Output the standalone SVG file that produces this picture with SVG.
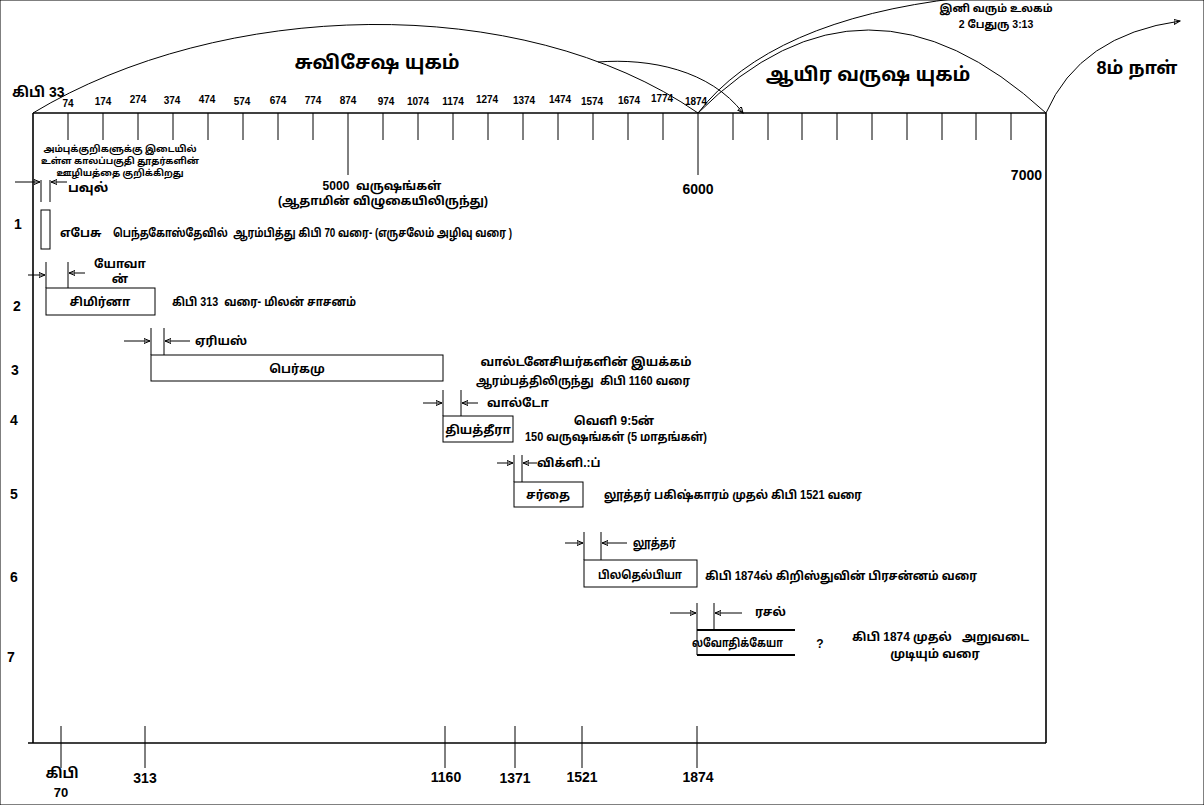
<svg xmlns="http://www.w3.org/2000/svg" width="1204" height="805" viewBox="0 0 1204 805">
<style>
text{font-family:'Liberation Sans','Noto Sans Tamil','Noto Sans',sans-serif;font-weight:bold;fill:#000}
.t{font-size:10px;text-anchor:middle}
.m{font-size:12px}
.c{text-anchor:middle}
.n{font-size:14px}
.big{font-size:19px;text-anchor:middle}
line,path,rect{stroke:#000;fill:none}
.f{stroke-width:1.6}
.a{stroke-width:1;marker-end:url(#ah)}
.b{stroke-width:1}
.k{stroke-width:2}
</style>
<defs>
<marker id="ah" markerUnits="userSpaceOnUse" markerWidth="7" markerHeight="6" refX="6" refY="3" orient="auto">
<path d="M0,0.5 L6,3 L0,5.5 z" fill="#000" stroke="none"/>
</marker>
</defs>
<rect x="0" y="0" width="1204" height="805" fill="#fff" stroke="none"/>

<g id="frame">
<line class="f" x1="33" y1="113" x2="1046" y2="113"/>
<line class="f" x1="33" y1="113" x2="33" y2="743"/>
<line class="f" x1="1046" y1="113" x2="1046" y2="743"/>
<line class="f" x1="28" y1="743" x2="1046" y2="743"/>
<g class="b">
<line x1="68" y1="113" x2="68" y2="140"/><line x1="103" y1="113" x2="103" y2="140"/>
<line x1="138" y1="113" x2="138" y2="140"/><line x1="173" y1="113" x2="173" y2="140"/>
<line x1="208" y1="113" x2="208" y2="140"/><line x1="243" y1="113" x2="243" y2="140"/>
<line x1="278" y1="113" x2="278" y2="140"/><line x1="313" y1="113" x2="313" y2="140"/>
<line x1="348" y1="113" x2="348" y2="175"/><line x1="383" y1="113" x2="383" y2="140"/>
<line x1="418" y1="113" x2="418" y2="140"/><line x1="453" y1="113" x2="453" y2="140"/>
<line x1="488" y1="113" x2="488" y2="140"/><line x1="523" y1="113" x2="523" y2="140"/>
<line x1="558" y1="113" x2="558" y2="140"/><line x1="593" y1="113" x2="593" y2="140"/>
<line x1="628" y1="113" x2="628" y2="140"/><line x1="663" y1="113" x2="663" y2="140"/>
<line x1="698" y1="113" x2="698" y2="175"/><line x1="733" y1="113" x2="733" y2="140"/>
<line x1="768" y1="113" x2="768" y2="140"/><line x1="802" y1="113" x2="802" y2="140"/>
<line x1="837" y1="113" x2="837" y2="140"/><line x1="872" y1="113" x2="872" y2="140"/>
<line x1="907" y1="113" x2="907" y2="140"/><line x1="942" y1="113" x2="942" y2="140"/>
<line x1="976" y1="113" x2="976" y2="140"/><line x1="1011" y1="113" x2="1011" y2="140"/>
<line x1="61" y1="726" x2="61" y2="768"/><line x1="145" y1="726" x2="145" y2="768"/>
<line x1="445" y1="726" x2="445" y2="768"/><line x1="515" y1="726" x2="515" y2="768"/>
<line x1="582" y1="726" x2="582" y2="768"/><line x1="697" y1="726" x2="697" y2="768"/>
</g>
<text class="t" x="68" y="107">74</text><text class="t" x="103" y="105">174</text>
<text class="t" x="138" y="103">274</text><text class="t" x="172" y="104">374</text>
<text class="t" x="207" y="103">474</text><text class="t" x="242" y="105">574</text>
<text class="t" x="278" y="104">674</text><text class="t" x="313" y="104">774</text>
<text class="t" x="348" y="104">874</text><text class="t" x="386" y="105">974</text>
<text class="t" x="418" y="105">1074</text><text class="t" x="453" y="105">1174</text>
<text class="t" x="487" y="103">1274</text><text class="t" x="524" y="104">1374</text>
<text class="t" x="560" y="103">1474</text><text class="t" x="592" y="105">1574</text>
<text class="t" x="629" y="104">1674</text><text class="t" x="662" y="102">1774</text>
<text class="t" x="696" y="105">1874</text>
<text x="12" y="97" style="font-size:14px">கிபி 33</text>
<text class="c" x="382" y="190" xml:space="preserve" style="font-size:12px">5000  வருஷங்கள்</text>
<text class="c" x="383" y="205" style="font-size:12px">(ஆதாமின் விழுகையிலிருந்து)</text>
<text class="n c" x="698" y="194">6000</text>
<text class="n" x="1042" y="180" text-anchor="end">7000</text>
<text class="n c" x="62" y="778">கிபி</text>
<text class="n c" x="61" y="797" style="font-size:13px">70</text>
<text class="n c" x="145" y="783">313</text>
<text class="n c" x="446" y="782">1160</text>
<text class="n c" x="515" y="783">1371</text>
<text class="n c" x="582" y="782">1521</text>
<text class="n c" x="698" y="782">1874</text>
<text class="n" x="14" y="229">1</text><text class="n" x="13" y="311">2</text>
<text class="n" x="11" y="375">3</text><text class="n" x="10" y="425">4</text>
<text class="n" x="10" y="499">5</text><text class="n" x="10" y="582">6</text>
<text class="n" x="7" y="662">7</text>
</g>

<g id="ages">
<text class="big" x="377" y="69">சுவிசேஷ யுகம்</text>
<text class="big" x="868" y="81">ஆயிர வருஷ யுகம்</text>
<text class="big" x="1137" y="74" style="font-size:18px">8ம் நாள்</text>
<text class="c" x="996" y="12" style="font-size:10.5px">இனி வரும் உலகம்</text>
<text class="c" x="996" y="28" style="font-size:10.5px">2 பேதுரு 3:13</text>
</g>

<g id="note">
<text class="c" x="120" y="152" style="font-size:9px">அம்புக்குறிகளுக்கு இடையில்</text>
<text class="c" x="120" y="164" style="font-size:9px">உள்ள காலப்பகுதி தூதர்களின்</text>
<text class="c" x="120" y="176" style="font-size:9px">ஊழியத்தை குறிக்கிறது</text>
</g>

<g id="connectors">
<path class="b" d="M33,113 C220,0 520,-10 698,113"/>
<path class="a" d="M598,62 C650,58 710,70 743,113"/>
<path class="b" d="M698,113 Q865,-53 1046,113"/>
<path class="b" d="M698,113 Q770,20 960,-2"/>
<path class="a" d="M1046,113 Q1080,35 1180,21"/>
<line class="a" x1="15" y1="182" x2="40" y2="182"/>
<line class="a" x1="67" y1="182" x2="51" y2="182"/>
<line class="a" x1="28" y1="275" x2="45" y2="275"/>
<line class="a" x1="85" y1="273" x2="69" y2="273"/>
<line class="a" x1="124" y1="341" x2="150" y2="341"/>
<line class="a" x1="190" y1="341" x2="165" y2="341"/>
<line class="a" x1="423" y1="403" x2="442" y2="403"/>
<line class="a" x1="478" y1="403" x2="462" y2="403"/>
<line class="a" x1="497" y1="463" x2="513" y2="463"/>
<line class="a" x1="537" y1="463" x2="523" y2="463"/>
<line class="a" x1="565" y1="543" x2="583" y2="543"/>
<line class="a" x1="627" y1="543" x2="602" y2="543"/>
<line class="a" x1="670" y1="613" x2="696" y2="613"/>
<line class="a" x1="742" y1="613" x2="715" y2="613"/>
</g>

<g id="row1">
<line class="b" x1="41" y1="180" x2="41" y2="202"/><line class="b" x1="50" y1="180" x2="50" y2="202"/>
<text class="m" x="68" y="192" style="font-size:13px">பவுல்</text>
<rect class="b" x="41" y="210" width="9" height="39"/>
<text class="m" x="60" y="237">எபேசு</text>
<text class="m" x="113" y="237" xml:space="preserve" textLength="399" lengthAdjust="spacingAndGlyphs">பெந்தகோஸ்தேவில்  ஆரம்பித்து கிபி 70 வரை- (எருசலேம் அழிவு வரை )</text>
</g>

<g id="row2">
<line class="b" x1="46" y1="262" x2="46" y2="288"/><line class="b" x1="68" y1="262" x2="68" y2="288"/>
<text class="m c" x="120" y="268">யோவா</text>
<text class="m c" x="120" y="283">ன்</text>
<rect class="b" x="46" y="288" width="109" height="27"/>
<text class="m c" x="100" y="306">சிமிர்னா</text>
<text class="m" x="172" y="306" xml:space="preserve" textLength="184" lengthAdjust="spacingAndGlyphs">கிபி 313  வரை- மிலன் சாசனம்</text>
</g>

<g id="row3">
<line class="b" x1="151" y1="328" x2="151" y2="355"/><line class="b" x1="164" y1="328" x2="164" y2="355"/>
<text class="m" x="195" y="345">ஏரியஸ்</text>
<rect class="b" x="151" y="355" width="292" height="26"/>
<text class="m c" x="297" y="373">பெர்கமு</text>
<text class="m c" x="586" y="366">வால்டனேசியர்களின் இயக்கம்</text>
<text class="m" x="476" y="385" xml:space="preserve" textLength="214" lengthAdjust="spacingAndGlyphs">ஆரம்பத்திலிருந்து  கிபி 1160 வரை</text>
</g>

<g id="row4">
<line class="b" x1="443" y1="390" x2="443" y2="416"/><line class="b" x1="461" y1="390" x2="461" y2="416"/>
<text class="m" x="487" y="407">வால்டோ</text>
<rect class="b" x="443" y="416" width="70" height="26"/>
<text class="m c" x="478" y="434">தியத்தீரா</text>
<text class="m c" x="614" y="425">வெளி 9:5ன்</text>
<text class="m" x="525" y="441" textLength="182" lengthAdjust="spacingAndGlyphs">150 வருஷங்கள் (5 மாதங்கள்)</text>
</g>

<g id="row5">
<line class="b" x1="514" y1="455" x2="514" y2="482"/><line class="b" x1="522" y1="455" x2="522" y2="482"/>
<text class="m" x="537" y="467">விக்ளி.:ப்</text>
<rect class="b" x="514" y="482" width="69" height="25"/>
<text class="m c" x="548" y="499">சர்தை</text>
<text class="m" x="604" y="499" textLength="258" lengthAdjust="spacingAndGlyphs">லூத்தர் பகிஷ்காரம் முதல் கிபி 1521 வரை</text>
</g>

<g id="row6">
<line class="b" x1="584" y1="532" x2="584" y2="560"/><line class="b" x1="601" y1="532" x2="601" y2="560"/>
<text class="m" x="633" y="547" textLength="43" lengthAdjust="spacingAndGlyphs">லூத்தர்</text>
<rect class="b" x="584" y="560" width="113" height="27"/>
<text class="m" x="598" y="579" textLength="84" lengthAdjust="spacingAndGlyphs">பிலதெல்பியா</text>
<text class="m" x="705" y="580" textLength="272" lengthAdjust="spacingAndGlyphs">கிபி 1874ல் கிறிஸ்துவின் பிரசன்னம் வரை</text>
</g>

<g id="row7">
<line class="b" x1="697" y1="603" x2="697" y2="655"/><line class="b" x1="714" y1="603" x2="714" y2="630"/>
<line class="k" x1="697" y1="630" x2="795" y2="630"/>
<line class="k" x1="697" y1="655" x2="795" y2="655"/>
<text class="m" x="755" y="616">ரசல்</text>
<text class="m" x="692" y="647" textLength="91" lengthAdjust="spacingAndGlyphs">லவோதிக்கேயா</text>
<text class="m c" x="820" y="648">?</text>
<text class="m" x="852" y="641" xml:space="preserve" textLength="177" lengthAdjust="spacingAndGlyphs">கிபி 1874 முதல்   அறுவடை</text>
<text class="m c" x="935" y="658">முடியும் வரை</text>
</g>
</svg>
